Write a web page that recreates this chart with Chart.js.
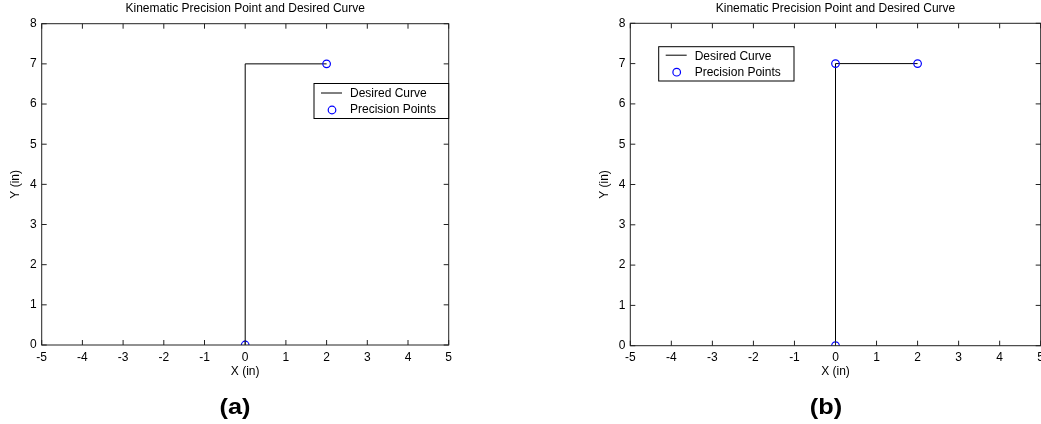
<!DOCTYPE html>
<html><head><meta charset="utf-8">
<script src="https://cdn.jsdelivr.net/npm/chart.js@4.4.0/dist/chart.umd.min.js"></script>
<style>
html,body{margin:0;padding:0;background:#fff;width:1041px;height:424px;overflow:hidden;position:relative;}
canvas{position:absolute;top:0;}
#c1{left:0;}
#c2{left:580px;}
.cap{position:absolute;font:bold 22px "Liberation Sans",Arial,Helvetica,sans-serif;color:#000;transform:translate(-50%,-50%) scaleX(1.15);white-space:nowrap;}
</style></head><body>
<canvas id="c1" width="470" height="424"></canvas>
<canvas id="c2" width="480" height="424"></canvas>
<div class="cap" style="left:235px;top:407px">(a)</div>
<div class="cap" style="left:826px;top:407px">(b)</div>
<script>
// ---- data ----
const chartTitle = 'Kinematic Precision Point and Desired Curve';
const xAxisLabel = 'X (in)';
const yAxisLabel = 'Y (in)';
const xTicks = [-5, -4, -3, -2, -1, 0, 1, 2, 3, 4, 5];
const yTicks = [0, 1, 2, 3, 4, 5, 6, 7, 8];
const seriesNames = ['Desired Curve', 'Precision Points'];
const curveX = [0, 0, 2];
const curveY = [0, 7, 7];
const pointsAX = [0, 2];
const pointsAY = [0, 7];
const pointsBX = [0, 0, 2];
const pointsBY = [0, 7, 7];

// ---- styling ----
const FONT = '"Liberation Sans", Arial, Helvetica, sans-serif';
const font12 = {family: FONT, size: 12, weight: 'normal', lineHeight: 1.2};

const frame = {
  id: 'matlabFrame',
  afterDraw(chart, args, opts) {
    const ctx = chart.ctx;
    const a = chart.chartArea;
    const sx = chart.scales.x, sy = chart.scales.y;
    const tl = 5;
    ctx.save();
    ctx.strokeStyle = '#222';
    ctx.lineWidth = 1;
    ctx.strokeRect(a.left, a.top, a.right - a.left, a.bottom - a.top);
    ctx.beginPath();
    xTicks.forEach(v => {
      const px = sx.getPixelForValue(v);
      ctx.moveTo(px, a.bottom); ctx.lineTo(px, a.bottom - tl);
      ctx.moveTo(px, a.top); ctx.lineTo(px, a.top + tl);
    });
    yTicks.forEach(v => {
      const py = sy.getPixelForValue(v);
      ctx.moveTo(a.left, py); ctx.lineTo(a.left + tl, py);
      ctx.moveTo(a.right, py); ctx.lineTo(a.right - tl, py);
    });
    ctx.stroke();

    // legend
    const L = opts.legend;
    if (L) {
      ctx.fillStyle = '#fff';
      ctx.fillRect(L.x, L.y, L.w, L.h);
      ctx.strokeStyle = '#000';
      ctx.strokeRect(L.x, L.y, L.w, L.h);
      ctx.font = '12px ' + FONT;
      ctx.textBaseline = 'middle';
      ctx.textAlign = 'left';
      const ds = chart.data.datasets;
      ds.forEach((d, i) => {
        const ry = L.y + L.row0 + i * L.rowGap;
        if (d.showLine) {
          ctx.strokeStyle = d.borderColor;
          ctx.lineWidth = d.borderWidth;
          ctx.beginPath();
          ctx.moveTo(L.x + 7, ry); ctx.lineTo(L.x + 28, ry);
          ctx.stroke();
        } else {
          ctx.strokeStyle = d.pointBorderColor;
          ctx.lineWidth = d.pointBorderWidth;
          ctx.beginPath();
          ctx.arc(L.x + 18, ry + 1, d.pointRadius, 0, Math.PI * 2);
          ctx.stroke();
        }
        ctx.fillStyle = '#000';
        ctx.fillText(d.label, L.x + 36, ry + 1);
      });
    }
    ctx.restore();
  }
};

function makeChart(id, ptsX, ptsY, g) {
  return new Chart(document.getElementById(id), {
    type: 'scatter',
    data: {
      datasets: [
        {label: seriesNames[0], data: curveX.map((x, i) => ({x: x, y: curveY[i]})),
         showLine: true, borderColor: '#000', borderWidth: 1, pointRadius: 0, pointHoverRadius: 0,
         tension: 0, fill: false, order: 1},
        {label: seriesNames[1], data: ptsX.map((x, i) => ({x: x, y: ptsY[i]})),
         showLine: false, borderColor: '#0000ff', backgroundColor: 'rgba(0,0,0,0)',
         pointBorderColor: '#0000ff', pointBackgroundColor: 'rgba(0,0,0,0)',
         pointRadius: 3.8, pointBorderWidth: 1.2, pointHoverRadius: 3.8, order: 0}
      ]
    },
    options: {
      responsive: false, animation: false, devicePixelRatio: 1,
      layout: {padding: {left: 0, top: 0, right: g.padRight, bottom: 0}},
      plugins: {
        legend: {display: false}, tooltip: {enabled: false},
        title: {display: true, text: chartTitle, fullSize: false, color: '#000', font: font12,
                padding: {top: g.titleTop, bottom: g.titleBottom}},
        matlabFrame: {legend: g.legend}
      },
      scales: {
        x: {
          type: 'linear', min: -5, max: 5,
          afterBuildTicks: s => { s.ticks = xTicks.map(v => ({value: v})); },
          afterFit: s => { s.height = g.xAxisH; },
          grid: {display: false, drawTicks: false}, border: {display: false},
          ticks: {color: '#000', font: font12, padding: 5, maxRotation: 0, autoSkip: false,
                  callback: (v) => String(v)},
          title: {display: true, text: xAxisLabel, color: '#000', font: font12, padding: {top: 0, bottom: 44.8}}
        },
        y: {
          type: 'linear', min: 0, max: 8,
          afterBuildTicks: s => { s.ticks = yTicks.map(v => ({value: v})); },
          afterFit: s => { s.width = g.yAxisW; },
          grid: {display: false, drawTicks: false}, border: {display: false},
          ticks: {color: '#000', font: font12, padding: 5, autoSkip: false, callback: (v) => String(v)},
          title: {display: true, text: yAxisLabel, color: '#000', font: font12, padding: {top: g.yTitlePad, bottom: 0}}
        }
      }
    },
    plugins: [frame]
  });
}

makeChart('c1', pointsAX, pointsAY, {
  padRight: 470 - 448.7, titleTop: 1.8, titleBottom: 7.5, xAxisH: 79, yAxisW: 41.7, yTitlePad: 8.8,
  legend: {x: 314, y: 83.5, w: 134.7, h: 35, row0: 9.5, rowGap: 16}
});
makeChart('c2', pointsBX, pointsBY, {
  padRight: 480 - 460.7, titleTop: 1.8, titleBottom: 7.1, xAxisH: 78.3, yAxisW: 50.3, yTitlePad: 17.8,
  legend: {x: 78.7, y: 46.7, w: 135.3, h: 34.3, row0: 8.5, rowGap: 16}
});
</script>
</body></html>
